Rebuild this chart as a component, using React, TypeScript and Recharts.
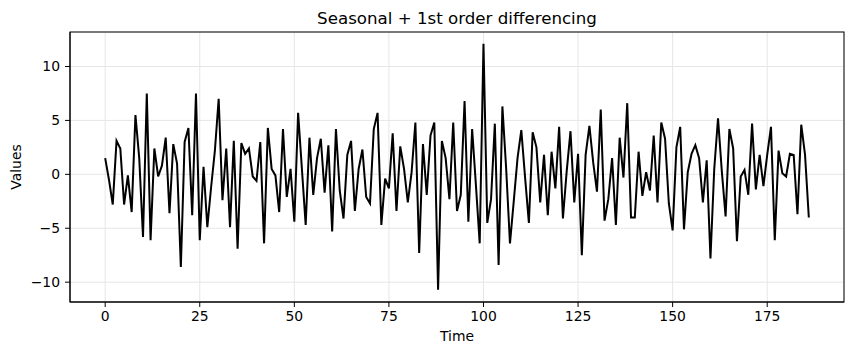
import { LineChart, Line, XAxis, YAxis, CartesianGrid } from "recharts";

// differenced series
const values = [
  1.5, -0.5, -2.8, 3.1, 2.4, -2.8, -0.1, -3.5, 5.5, 1.5,
  -5.8, 7.5, -6.1, 2.4, -0.2, 0.8, 3.4, -3.6, 2.8, 1.0,
  -8.6, 3.0, 4.3, -3.8, 7.5, -6.1, 0.7, -4.9, -1.2, 2.2,
  7.0, -2.4, 2.4, -4.9, 3.1, -6.9, 2.9, 1.9, 2.4, -0.2,
  -0.6, 3.0, -6.4, 4.3, 0.5, -0.1, -3.5, 4.2, -2.1, 0.5,
  -4.4, 5.7, 0.5, -4.7, 3.4, -1.9, 1.5, 3.3, -1.7, 2.7,
  -5.3, 4.2, -1.5, -4.1, 1.8, 3.1, -3.4, 0.5, 2.3, -2.1,
  -2.7, 4.2, 5.7, -4.7, -0.4, -1.3, 3.8, -3.4, 2.6, 0.5,
  -2.6, 0.2, 4.8, -7.3, 2.8, -1.9, 3.6, 4.8, -10.7, 3.1,
  1.5, -2.3, 4.8, -3.4, -1.9, 6.8, -4.4, 4.2, -1.0, -6.4,
  12.1, -4.5, -2.3, 4.7, -8.4, 6.3, 0.5, -6.4, -2.5, 1.5,
  4.1, -0.3, -4.5, 3.9, 2.5, -2.6, 1.8, -3.8, 2.1, -1.3,
  4.4, -4.1, 0.3, 4.0, -2.6, 1.9, -7.5, 1.8, 4.5, 1.1,
  -1.6, 6.0, -4.3, -2.3, 1.5, -4.7, 3.4, -0.3, 6.6, -4.0,
  -4.0, 2.1, -2.0, 0.2, -1.5, 3.6, -2.6, 4.8, 3.3, -2.7,
  -5.2, 2.5, 4.4, -5.1, 0.2, 1.9, 2.7, 1.5, -2.6, 1.3,
  -7.8, 0.5, 5.2, 0.3, -3.9, 4.2, 2.4, -6.2, -0.2, 0.4,
  -1.9, 4.7, -1.4, 1.8, -1.1, 1.8, 4.4, -6.1, 2.2, 0.1,
  -0.2, 1.9, 1.8, -3.7, 4.6, 1.8, -4.0,
];

const xTicks = [0, 25, 50, 75, 100, 125, 150, 175];
const yTicks = [-10, -5, 0, 5, 10];

const data = values.map((v, i) => ({ time: i, value: v }));

const FONT = "DejaVu Sans, sans-serif";
const fmt = (v: number) => String(v).replace("-", "\u2212");
const tickStyle = { fontSize: 13.9, fill: "#000", fontFamily: FONT };

// plot box (matches chart margins below)
const BOX = { left: 70, top: 32, right: 844, bottom: 302 };

export default function App() {
  return (
    <div style={{ position: "absolute", left: 0, top: 0, width: 853, height: 355, background: "#fff" }}>
      <LineChart
        width={853}
        height={355}
        data={data}
        margin={{ top: 32, right: 9, bottom: 23, left: 10 }}
      >
        <CartesianGrid stroke="#e6e6e6" strokeWidth={1} />
        <XAxis
          dataKey="time"
          type="number"
          domain={[-9.3, 195.3]}
          ticks={xTicks}
          allowDataOverflow
          height={30}
          tickSize={5}
          tickMargin={4}
          tick={tickStyle}
          stroke="#000"
          tickLine={{ stroke: "#000" }}
          axisLine={{ stroke: "#000" }}
        />
        <YAxis
          type="number"
          domain={[-11.84, 13.2]}
          ticks={yTicks}
          allowDataOverflow
          width={60}
          tickSize={5}
          tickMargin={5}
          tick={tickStyle}
          tickFormatter={fmt}
          stroke="#000"
          tickLine={{ stroke: "#000" }}
          axisLine={{ stroke: "#000" }}
        />
        <Line
          type="linear"
          dataKey="value"
          stroke="#000"
          strokeWidth={2}
          dot={false}
          isAnimationActive={false}
        />
      </LineChart>
      <svg
        width={853}
        height={355}
        style={{ position: "absolute", left: 0, top: 0, pointerEvents: "none" }}
      >
        <rect
          x={BOX.left}
          y={BOX.top}
          width={BOX.right - BOX.left}
          height={BOX.bottom - BOX.top}
          fill="none"
          stroke="#000"
          strokeWidth={1}
        />
        <text x={457} y={24} textAnchor="middle" fontSize={16.67} fontFamily={FONT} fill="#000">
          Seasonal + 1st order differencing
        </text>
        <text x={457} y={341} textAnchor="middle" fontSize={13.9} fontFamily={FONT} fill="#000">
          Time
        </text>
        <text
          x={20.5}
          y={167}
          textAnchor="middle"
          fontSize={13.9}
          fontFamily={FONT}
          fill="#000"
          transform="rotate(-90 20.5 167)"
        >
          Values
        </text>
      </svg>
    </div>
  );
}
